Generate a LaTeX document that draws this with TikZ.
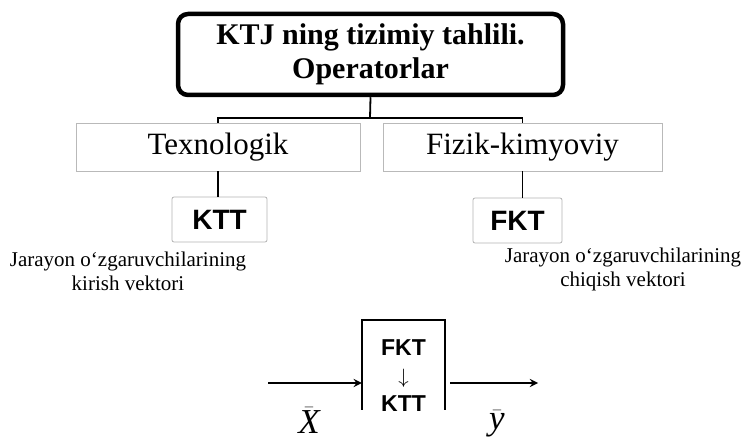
\documentclass[tikz,border=0pt]{standalone}
\usepackage{fontspec}
\setmainfont{Liberation Serif}
\setsansfont{Liberation Sans}
\usepackage{tikz}
\usetikzlibrary{positioning,arrows}

\begin{document}
\begin{tikzpicture}[x=1pt,y=-1pt]
\tikzstyle{every node}+=[inner sep=0pt]
\tikzstyle{headbox}=[draw, line width=4.5pt, rounded corners=10pt, align=center, font=\bfseries\fontsize{30}{34}\selectfont]
\tikzstyle{kindbox}=[draw=gray!55, line width=0.7pt, font=\fontsize{31}{34}\selectfont]
\tikzstyle{opbox}=[draw=gray!60, line width=0.8pt, rounded corners=2pt, font=\sffamily\bfseries\fontsize{28}{30}\selectfont]
\tikzstyle{note}=[align=center, font=\fontsize{21}{24}\selectfont]
\tikzstyle{link}=[line width=1.8pt]
\tikzstyle{flow}=[line width=2.6pt, ->, >=stealth]
\clip (0,0) rectangle (745,443);
% sarlavha
\node [headbox, minimum width=385, minimum height=81] (title) at (370.5,54.5) {KTJ ning tizimiy tahlili.\\Operatorlar};
\coordinate (bus) at (370,118);
\node [kindbox, minimum width=284, minimum height=48] (tex) at (218,147) {Texnologik};
\node [kindbox, minimum width=279, minimum height=48] (fiz) at (522.5,147) {Fizik-kimyoviy};
\draw [link] (title.south) -- (bus);
\draw [link] (tex.north) |- (bus) -| (fiz.north);
% operatorlar
\node [opbox, minimum width=95, minimum height=45] (ktt) at (219.5,219.5) {KTT};
\node [opbox, minimum width=89, minimum height=45] (fkt) at (517.5,220.5) {FKT};
\draw [link] (tex.south) -- (tex.south |- ktt.north);
\draw [link] (fiz.south) -- (fiz.south |- fkt.north);
\node [note] (kin) at (128,271) {Jarayon o‘zgaruvchilarining\\kirish vektori};
\node [note] (kout) at (623,269) {Jarayon o‘zgaruvchilarining\\chiqish vektori};
% blok sxema
\node [align=center, minimum width=83, minimum height=112, font=\sffamily\bfseries\fontsize{23}{27}\selectfont] (unit) at (403.5,376) {FKT\\[1pt]{\normalfont\fontsize{20}{20}\selectfont$\downarrow$}\\[1pt]KTT};
\draw [line width=1.8pt] (unit.north west) ++(0,90) -- (unit.north west) -- (unit.north east) -- ++(0,90);
\coordinate (xin) at (268,383);
\coordinate (yout) at (538,383);
\draw [flow] (xin) -- (xin -| unit.west);
\draw [flow] ([xshift=5pt]unit.east |- yout) -- (yout);
\node [anchor=base, font=\fontsize{35}{40}\selectfont] (xlab) at (309,434) {$\bar{\mathit{X}}$};
\node [anchor=base, font=\fontsize{35}{40}\selectfont] (ylab) at (497,430) {$\bar{\mathit{y}}$};
\end{tikzpicture}
\end{document}
